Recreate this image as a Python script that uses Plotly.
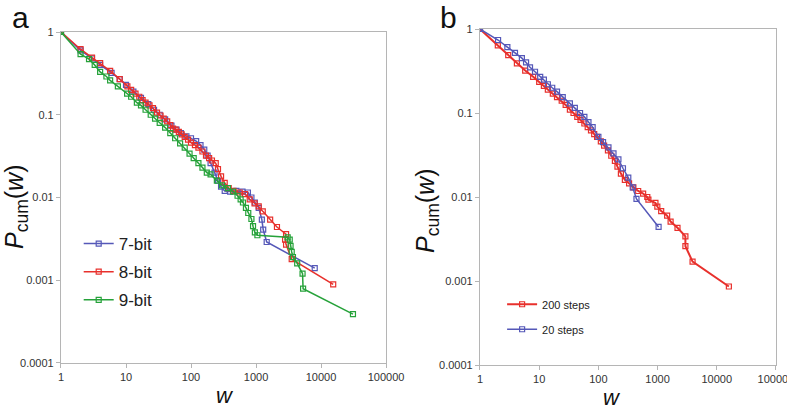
import plotly.graph_objects as go

# ---- Panel a data (w, Pcum) ----
w7 = [1, 2, 3, 4, 6, 8, 10, 13, 17, 22, 27, 33, 40, 50, 60, 70, 85, 100, 120, 140, 160, 180, 200, 230, 260, 290, 330, 400, 500, 620, 750, 850, 960, 1100, 1230, 1290, 1460, 8000]
p7 = [1, 0.6, 0.48, 0.40, 0.32, 0.27, 0.23, 0.19, 0.16, 0.135, 0.115, 0.10, 0.088, 0.074, 0.066, 0.06, 0.055, 0.052, 0.048, 0.043, 0.038, 0.032, 0.026, 0.02, 0.016, 0.0135, 0.012, 0.0118, 0.012, 0.0118, 0.0115, 0.01, 0.0087, 0.0075, 0.0054, 0.0041, 0.0029, 0.0014]

w8 = [1, 2, 3, 4, 5.7, 8, 10.5, 12, 14, 16, 18, 20, 23, 26, 30, 34, 38, 43, 48, 53, 58, 65, 72, 80, 90, 100, 115, 130, 150, 170, 190, 210, 240, 260, 290, 330, 380, 450, 560, 680, 800, 950, 1100, 1270, 1650, 2100, 2900, 2800, 2900, 3540, 15400]
p8 = [1, 0.62, 0.49, 0.42, 0.34, 0.27, 0.22, 0.20, 0.18, 0.165, 0.15, 0.14, 0.13, 0.12, 0.106, 0.098, 0.09, 0.083, 0.075, 0.068, 0.066, 0.062, 0.058, 0.054, 0.05, 0.046, 0.043, 0.04, 0.036, 0.032, 0.03, 0.028, 0.026, 0.022, 0.018, 0.015, 0.013, 0.012, 0.0115, 0.011, 0.0095, 0.0085, 0.0078, 0.0068, 0.0054, 0.0044, 0.0036, 0.0031, 0.0027, 0.0018, 0.00089]

w9 = [1, 2, 2.7, 3.3, 4, 5, 5.7, 7.5, 10.4, 12, 14.7, 17, 20, 24, 28, 33, 40, 48, 57, 68, 80, 95, 110, 130, 150, 175, 200, 250, 300, 370, 445, 520, 580, 630, 700, 760, 850, 900, 960, 1050, 3070, 3300, 3400, 3540, 3700, 4300, 5200, 5300, 31000]
p9 = [1, 0.54, 0.47, 0.40, 0.33, 0.29, 0.26, 0.22, 0.18, 0.165, 0.14, 0.13, 0.115, 0.10, 0.09, 0.08, 0.07, 0.06, 0.052, 0.045, 0.04, 0.034, 0.03, 0.026, 0.023, 0.020, 0.019, 0.016, 0.014, 0.013, 0.0118, 0.0105, 0.0095, 0.0087, 0.0075, 0.0065, 0.0055, 0.0045, 0.0038, 0.0035, 0.0033, 0.0031, 0.0026, 0.0022, 0.0019, 0.0016, 0.0012, 0.00079, 0.00039]

# ---- Panel b data ----
w200 = [1, 2, 3, 4.2, 5.8, 7.9, 10, 12, 14, 17, 20, 24, 28, 33, 38, 44, 50, 58, 66, 75, 85, 95, 110, 125, 145, 165, 190, 210, 240, 280, 330, 390, 470, 570, 670, 700, 920, 990, 1150, 1450, 1660, 2170, 2950, 2950, 3900, 16000]
p200 = [1, 0.64, 0.49, 0.39, 0.32, 0.27, 0.235, 0.21, 0.19, 0.17, 0.155, 0.14, 0.125, 0.11, 0.10, 0.09, 0.083, 0.075, 0.068, 0.062, 0.056, 0.052, 0.046, 0.041, 0.036, 0.031, 0.027, 0.023, 0.019, 0.016, 0.0145, 0.013, 0.0118, 0.011, 0.010, 0.0093, 0.0085, 0.0077, 0.0068, 0.006, 0.0051, 0.0043, 0.0034, 0.0026, 0.0017, 0.00086]

w20 = [1, 2.02, 2.9, 3.9, 5.1, 6, 7, 8.5, 10.4, 12, 14, 16.6, 20, 25, 33, 40, 49, 58, 68, 80, 100, 120, 148, 180, 218, 260, 320, 380, 440, 1040]
p20 = [1, 0.74, 0.61, 0.52, 0.45, 0.40, 0.35, 0.31, 0.27, 0.25, 0.22, 0.20, 0.18, 0.155, 0.13, 0.115, 0.10, 0.09, 0.078, 0.068, 0.052, 0.045, 0.039, 0.033, 0.028, 0.022, 0.017, 0.013, 0.0095, 0.0044]

x_ticks = [1, 10, 100, 1000, 10000, 100000]
x_ticktext = ["1", "10", "100", "1000", "10000", "100000"]
y_ticks = [0.0001, 0.001, 0.01, 0.1, 1]
y_ticktext = ["0.0001", "0.001", "0.01", "0.1", "1"]

BLUE = "#5558B8"
RED = "#E8302C"
GREEN = "#26A23A"

fig = go.Figure()

def add(x, y, name, color, xa, ya, legend, lw=1.5, group=None):
    fig.add_trace(go.Scatter(
        x=x, y=y, name=name, mode="lines+markers",
        line=dict(color=color, width=lw),
        marker=dict(symbol="square-open", size=5, color=color, line=dict(width=1.2, color=color)),
        xaxis=xa, yaxis=ya, legend=legend, legendgroup=group or name,
    ))

add(w7, p7, "7-bit", BLUE, "x", "y", "legend")
add(w8, p8, "8-bit", RED, "x", "y", "legend")
add(w9, p9, "9-bit", GREEN, "x", "y", "legend")
add(w200, p200, "200 steps", RED, "x2", "y2", "legend2", lw=2)
add(w20, p20, "20 steps", BLUE, "x2", "y2", "legend2")

axis_common = dict(
    type="log", showgrid=False, zeroline=False, showline=True, mirror=True,
    linecolor="#B5B5B5", linewidth=1.2, ticks="outside", ticklen=4, tickcolor="#B5B5B5",
    automargin=False, ticklabeloverflow="allow",
    tickfont=dict(family="Liberation Sans, Arial", size=11, color="#333"),
)

fig.update_layout(
    width=787, height=411,
    margin=dict(l=0, r=0, t=0, b=0, pad=0, autoexpand=False),
    plot_bgcolor="white", paper_bgcolor="white",
    xaxis=dict(axis_common, domain=[0.0775, 0.4905], range=[0, 5], tickvals=x_ticks, ticktext=x_ticktext, anchor="y"),
    yaxis=dict(axis_common, domain=[0.1168, 0.9221], range=[-4, 0], tickvals=y_ticks, ticktext=y_ticktext, anchor="x"),
    xaxis2=dict(axis_common, domain=[0.6099, 0.9860], range=[0, 5], tickvals=x_ticks, ticktext=x_ticktext, anchor="y2"),
    yaxis2=dict(axis_common, domain=[0.1119, 0.9294], range=[-4, 0], tickvals=y_ticks, ticktext=y_ticktext, anchor="x2"),
    legend=dict(x=0.100, y=0.45, xanchor="left", yanchor="top", bgcolor="rgba(0,0,0,0)",
                font=dict(family="Liberation Sans, Arial", size=17, color="#222"),
                tracegroupgap=3, itemwidth=30),
    legend2=dict(x=0.638, y=0.295, xanchor="left", yanchor="top", bgcolor="rgba(0,0,0,0)",
                 font=dict(family="Liberation Sans, Arial", size=11, color="#222"),
                 tracegroupgap=6, itemwidth=30),
    showlegend=True,
)

ann_font = dict(family="Liberation Sans, Arial", size=22, color="#111")
ylab_font = dict(family="Liberation Sans, Arial", size=25, color="#111")
common_ann = dict(xref="paper", yref="paper", showarrow=False, xanchor="center", yanchor="middle")
annotations = [
    dict(common_ann, text="a", x=20/787, y=1-18/411, font=dict(family="Liberation Sans, Arial", size=30, color="#111")),
    dict(common_ann, text="b", x=448/787, y=1-18/411, font=dict(family="Liberation Sans, Arial", size=30, color="#111")),
    dict(common_ann, text="<i>w</i>", x=225/787, y=1-395/411, font=ann_font),
    dict(common_ann, text="<i>w</i>", x=612/787, y=1-397/411, font=ann_font),
    dict(common_ann, text="<i>P</i><sub>cum</sub>(<i>w</i>)", x=16/787, y=1-207/411, textangle=-90, font=ylab_font),
    dict(common_ann, text="<i>P</i><sub>cum</sub>(<i>w</i>)", x=427/787, y=1-211/411, textangle=-90, font=ylab_font),
]
fig.update_layout(annotations=annotations)

fig.write_html("out.html")
